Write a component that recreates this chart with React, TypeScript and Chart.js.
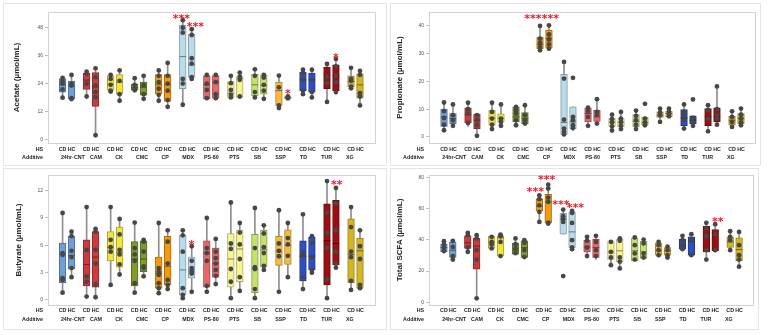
import React, { useEffect, useRef } from 'react';
import { Chart, registerables } from 'chart.js';

Chart.register(...registerables);
Chart.defaults.font.family = '"Liberation Sans", Arial, sans-serif';

const additives = ['24hr-CNT', 'CAM', 'CK', 'CMC', 'CP', 'MDX', 'PS-80', 'PTS', 'SB', 'SSP', 'TD', 'TUR', 'XG'];
const hsLabels = ['CD', 'HC'];
const rowHeaders = ['HS', 'Additive'];
const additiveColors = ['#6f9fd8', '#cf3b3d', '#f3e63a', '#7f9b2c', '#f59a0c', '#b9dcea', '#e8676a', '#f8f58f', '#c5e26b', '#f7bb3e', '#2e4fc4', '#9b0e12', '#d6b522'];

// ---------- Acetate ----------
const acetateLow = [18, 17.4, 18.5, 2, 20.4, 16.7, 20.4, 17.5, 16.7, 14.1, 15, 26, 17.5, 17.8, 18.1, 18.1, 17.5, 17.5, 13.6, 17.6, 19.5, 18.1, 16.2, 19.5, 22, 14.7];
const acetateQ1 = [20.4, 17.5, 21.5, 14.3, 21.2, 19.5, 21.2, 19.1, 19.7, 16.4, 21.8, 26.7, 17.5, 17.8, 18.1, 18.1, 18.8, 19.5, 14.7, 17.7, 21, 20.4, 21.8, 21, 22.7, 17.8];
const acetateMedian = [23.5, 23, 25.5, 22.6, 23.7, 24.6, 22.4, 22.5, 23.5, 23.5, 35.5, 32, 23.5, 24.6, 20, 26.2, 23.5, 23.2, 21, 18, 25.6, 25.6, 27.3, 27.4, 24.9, 23.5];
const acetateQ3 = [26.1, 25, 28.4, 28.7, 27.4, 27.8, 23.7, 24.7, 27.8, 27.8, 48.9, 45, 27.4, 27.4, 24.9, 27, 28, 27.7, 24.6, 18.5, 28.9, 28.5, 31, 32, 27.3, 28.2];
const acetateHigh = [26.4, 27.7, 29.1, 30.5, 27.7, 29.6, 26.3, 27.3, 29.6, 32.8, 51, 47.2, 27.7, 27.7, 27.3, 28.7, 30.1, 27.7, 27.4, 18.7, 29.9, 29.9, 32.4, 34.5, 30.7, 29.4];
const acetatePoints = [[26.4, 25, 24, 21.5, 18], [27.7, 23.9, 23.2, 17.8, 17.4], [29.1, 28.2, 24, 18.5], [30.5, 26.7, 23.2, 20.4, 18.2, 2], [27.7, 26, 23.5, 21, 20.6], [29.6, 25.2, 19.5, 16.7], [26.3, 23.5, 21.8, 21.2], [27.3, 23.3, 19.5, 17.5], [29.6, 27.3, 24.6, 21.8, 19.2, 16.7], [32.8, 27.3, 24, 21, 17, 14.1], [51, 47.8, 45.7, 26, 24, 15], [47.2, 44.7, 34.8, 32.5, 26.7, 26], [27.7, 24, 21.3, 17.8], [27.7, 24.6, 19.5, 17.8], [27.3, 24.2, 21.3, 19.2, 18.1], [28.7, 27, 25.6, 18.5], [30.1, 27.3, 20.4, 18.1], [27.7, 26.6, 23.5, 21, 17.5], [27.4, 22.4, 14.7, 13.6], [18.6, 18, 17.7], [29.9, 28.5, 25.6, 21, 19.5], [29.9, 25.6, 20.4, 18.1], [32.4, 27, 24.2, 16.2], [34.5, 31.3, 27.4, 24.6, 20.4], [30.7, 26, 25.2, 22.7, 22], [29.4, 27.7, 19.9, 18.5, 14.7]];
const acetateTicks = [0, 12, 24, 36, 48];
const acetateStarX = [4.76, 5.34, 9.186, 11.186];
const acetateStarY = [52.9, 49.6, 21.1, 36.5];
const acetateStarText = ['***', '***', '*', '*'];

// ---------- Propionate ----------
const propionateLow = [2.4, 4, 3.8, 0.4, 2.8, 4, 4.2, 4.4, 30.9, 31.5, 0.8, 2.4, 4, 4.6, 2.3, 2.8, 2.8, 3.8, 5.4, 7, 3, 4, 2, 4.4, 3.6, 4.2];
const propionateQ1 = [3.8, 4.8, 5, 3, 4.2, 5.4, 5.4, 4.8, 31.8, 32, 0.9, 3, 5.4, 5.6, 3.8, 3.6, 3.6, 4.4, 7, 7.2, 4, 4.8, 4, 5.4, 4.2, 4.8];
const propionateMedian = [7.2, 6.6, 8, 6, 6.8, 6.6, 7.2, 6.6, 33.3, 35.5, 5.2, 5.4, 8.4, 7.2, 5.4, 5.2, 5.6, 5.2, 7.8, 8.3, 6.8, 6, 7.2, 7.2, 6, 6.6];
const propionateQ3 = [10, 8.4, 10.5, 8.2, 9.6, 8.3, 10.8, 8.8, 36, 38.4, 22.5, 10.8, 10.5, 9.6, 6.8, 6.6, 8, 7.1, 9, 9.3, 9.8, 7.6, 10.2, 10.5, 7.4, 8.4];
const propionateHigh = [12.4, 11.7, 12.3, 8.2, 12.3, 11.7, 11, 11.4, 40, 40.2, 27, 10.8, 10.5, 13.6, 8, 9, 9.5, 7.1, 10.2, 10.2, 11.7, 7.6, 11.4, 18.2, 9.2, 10.2];
const propionatePoints = [[12.4, 9.3, 6.8, 4.4, 2.4], [11.7, 7.8, 6, 4], [12.3, 10, 8.4, 5], [7.8, 6, 4.2, 0.4], [12.3, 9, 6.6, 4.4, 2.8], [11.7, 6.6, 5.4, 4], [10.8, 9.6, 8.4, 6, 4.2], [11.4, 7.8, 6, 4.8], [40, 35.4, 33.9, 32.4, 31.2], [40.2, 36.9, 35.1, 33.3, 31.8], [27, 21, 6.2, 3, 1.8, 0.9], [21.3, 7.2, 6, 4.2, 3.2], [10.5, 9.3, 7.2, 4], [13.6, 9, 8, 4.8], [8, 6.4, 5.2, 3.8, 2.3], [9, 6.6, 5.4, 4, 2.8], [9.5, 7.6, 6, 4.4, 2.8], [11.9, 6.6, 5.2, 4.2], [10.2, 8.8, 7.8, 5.4], [10.2, 9, 8.4, 7.4], [11.7, 9, 7.8, 6, 3], [13.5, 6.8, 5.4, 4], [11.4, 9.6, 6.6, 2], [18.2, 10, 7.8, 6.6, 4.4], [9.2, 7.2, 5.4, 3.6], [10.2, 8, 6.6, 5.2, 4.2]];
const propionateTicks = [0, 10, 20, 30, 40];
const propionateStarX = [3.52, 4.24];
const propionateStarY = [43.8, 43.8];
const propionateStarText = ['***', '***'];

// ---------- Butyrate ----------
const butyrateLow = [0.8, 2.5, 0.37, 0.3, 1.65, 2.8, 0.8, 2.6, 0.75, 1.2, 0.2, 0.9, 0.9, 1.75, 0.2, 1, 0.2, 3.3, 0.9, 2.5, 1.2, 3, 0.2, 3.55, 1.1, 1.2];
const butyrateQ1 = [1.9, 3.4, 1.55, 1.4, 4.3, 3.6, 1.55, 3.1, 1.3, 1.65, 0.55, 2.4, 1.4, 2.5, 1.4, 2, 0.8, 3.6, 3.8, 3.9, 2.1, 3.3, 1.65, 3.85, 1.9, 1.3];
const butyrateMedian = [5, 4.9, 3.9, 4.7, 5.8, 5.2, 4.5, 4.5, 2.9, 3.7, 3.3, 3.3, 5.15, 4, 4.5, 5.6, 3.4, 5.5, 5.3, 6, 4.8, 4.8, 6.5, 6.2, 5, 5.4];
const butyrateQ3 = [6.25, 7, 6.6, 7.5, 7.5, 8, 6.4, 6.5, 4.7, 7, 7.1, 4.7, 6.5, 5.7, 7.3, 7.65, 7.2, 7.65, 7, 7.7, 6.5, 6.9, 10.55, 10.95, 8.9, 6.8];
const butyrateHigh = [9.55, 7.5, 10.2, 7.8, 10.2, 8.9, 8.5, 6.6, 8.45, 7.65, 7.65, 5.9, 9, 6.7, 10.7, 8.45, 10.1, 8.2, 9.85, 8.45, 9.4, 7, 13.05, 12.3, 10.2, 7.65];
const butyratePoints = [[9.55, 5.15, 4.96, 2.4, 2.2, 0.8], [7.5, 7, 5.4, 4.7, 3.5, 2.5], [10.2, 5.5, 2.6, 2, 0.37], [7.8, 7.5, 5.5, 4, 1.7, 0.3], [10.2, 6.6, 5.8, 5.3, 1.65], [8.9, 7.2, 5.5, 5, 3.9, 2.8], [8.5, 5.7, 5, 4.3, 1.85, 0.8], [6.6, 6.4, 5.3, 3.7, 3.5, 2.6], [8.45, 3.5, 3.1, 2.75, 1.85, 1.3, 0.75], [7.65, 6.4, 4, 2.2, 1.65, 1.2], [7.65, 7.1, 5.3, 1.3, 0.55, 0.2], [5.9, 4.3, 3.5, 3.1, 2.9, 0.9], [9, 5.7, 5.15, 4.3, 1.55, 0.9], [6.7, 5.3, 4.6, 4, 3.3, 2.65, 1.75], [10.7, 6.2, 5.6, 3.4, 2, 0.2], [8.45, 7.4, 6.1, 4.5, 2.5, 1], [10.1, 5.7, 3.6, 3.4, 1.2, 0.2], [8.2, 7.3, 5.8, 5.15, 3.75, 3.3], [9.85, 6.2, 5.4, 4.8, 0.9], [8.45, 6.8, 6.1, 4.85, 2.5], [9.4, 5.15, 4.85, 2.5, 1.2], [7, 6.25, 4.7, 3.3, 3], [13.05, 9.6, 7.4, 5.7, 2.3, 0.2], [12.3, 10.6, 7.65, 5.3, 4, 3.55], [10.2, 8, 5.3, 4.7, 2.1, 1.1], [7.65, 5.9, 4.5, 1.65, 1.3]];
const butyrateTicks = [0, 3, 6, 9, 12];
const butyrateStarX = [5.186, 11.22];
const butyrateStarY = [6.4, 13.0];
const butyrateStarText = ['*', '**'];

// ---------- Total SCFA ----------
const totalLow = [31.7, 27.4, 32.3, 2.6, 34.5, 28.7, 30.9, 28.1, 51.5, 50.4, 43.6, 34, 29.6, 27.4, 23.8, 21.7, 26.6, 28.1, 30.2, 28.5, 33.4, 29.8, 27.4, 32.3, 32.8, 22.8];
const totalQ1 = [32.3, 28.7, 34.5, 21.3, 34.5, 29.6, 30.9, 28.7, 58.3, 50.9, 43.6, 35.1, 32.3, 28.7, 27.4, 26, 26.6, 28.1, 30.2, 30.2, 34, 30.2, 32.3, 33, 35.1, 26.6];
const totalMedian = [35.1, 33.4, 38.1, 36, 38.3, 41.3, 33.4, 35, 61.5, 64.3, 53, 45.1, 35.5, 35.1, 32.3, 33, 33, 32.3, 33.4, 33, 36.6, 39.1, 42.3, 44, 38.7, 33.8];
const totalQ3 = [37.2, 38.7, 42.6, 40.9, 42.3, 42.8, 37.7, 39.4, 66.4, 69.1, 57, 57.9, 39.8, 40.4, 39.4, 40.4, 41.1, 39.1, 38.1, 35.1, 40.4, 41.9, 48.7, 46.6, 41.9, 41.3];
const totalHigh = [39.1, 39.4, 44.5, 43, 42.3, 43.4, 40.9, 39.8, 68.5, 75.3, 59.4, 58.5, 41.9, 42.6, 39.4, 40.9, 41.5, 40.2, 38.7, 36, 42.6, 43.6, 50.9, 50, 45.5, 45.1];
const totalPoints = [[39.1, 37.2, 35.1, 32.8], [39.4, 35.5, 29.6, 27.4], [44.5, 43, 35.1, 32.3], [43, 40.9, 33.4, 27.4, 2.6], [41.9, 38.7, 37.2, 34.5], [43.4, 42.3, 38.7, 29.6], [40.9, 37.2, 34.5, 31.5], [39.8, 38.1, 33.4, 29], [68.5, 66, 62.1, 57.9, 51.5], [75.3, 72.8, 67, 64.3, 51, 50.4], [59.4, 55.1, 53.6, 51.5, 16.8], [58.5, 57.2, 50.8, 39.8, 35.1, 34], [41.9, 39.4, 35.1, 29.6], [42.6, 38.7, 33.4, 29.6], [38.7, 32.3, 28.7, 23.8], [40.9, 39.4, 28.7, 26, 21.7], [41.5, 36.6, 31.3, 27.4], [40.2, 37.7, 31.3, 28.7], [38.7, 36.6, 33.4, 30.2], [35.6, 33.4, 30.2, 28.7], [42.6, 39.8, 36.6, 34], [43.6, 39.8, 30.2], [50.9, 47.2, 42.3, 33.4, 27.4], [50, 43.6, 33.4], [45.5, 41.9, 39.8, 33.4], [45.1, 36.6, 30.2, 27.4, 22.8]];
const totalTicks = [0, 20, 40, 60, 80];
const totalStarX = [3.65, 4.12, 4.72, 5.32, 11.29];
const totalStarY = [73, 80.2, 64.6, 62.3, 53.8];
const totalStarText = ['***', '***', '***', '***', '**'];

const HS_OFFSET = 0.186;
const boxPos = (i: number) => Math.floor(i / 2) + (i % 2 === 0 ? -HS_OFFSET : HS_OFFSET);

function shade(hex: string, f: number) {
  const n = parseInt(hex.slice(1), 16);
  const r = Math.round(((n >> 16) & 255) * (1 - f));
  const g = Math.round(((n >> 8) & 255) * (1 - f));
  const b = Math.round((n & 255) * (1 - f));
  return `rgb(${r},${g},${b})`;
}

type PanelProps = {
  title: string;
  low: number[]; q1: number[]; median: number[]; q3: number[]; high: number[];
  points: number[][];
  yTicks: number[]; yMin: number; yMax: number;
  starX: number[]; starY: number[]; starText: string[];
  left: number; top: number; w: number; h: number;
  yWidth: number; pad: { left: number; top: number; right: number; bottom: number };
  xH: number; xPad: number; x2H: number; x2Pad: number; titlePad: number;
  xMin: number; xMax: number;
};

const LABEL_SIZE = 5.3;

function Panel(p: PanelProps) {
  const ref = useRef<HTMLCanvasElement>(null);
  useEffect(() => {
    if (!ref.current) return;
    const n = p.low.length;
    const idx = Array.from({ length: n }, (_, i) => i);
    const fills = idx.map((i) => additiveColors[Math.floor(i / 2)]);
    const borders = fills.map((c) => shade(c, 0.3));
    const medCols = fills.map((c) => shade(c, 0.45));
    const pts: { x: number; y: number }[] = [];
    p.points.forEach((arr, i) => arr.forEach((v) => pts.push({ x: boxPos(i), y: v })));

    const decor = {
      id: 'decor',
      beforeDraw(chart: any) {
        const ctx = chart.ctx;
        ctx.save();
        ctx.fillStyle = '#ffffff';
        ctx.fillRect(0, 0, chart.width, chart.height);
        ctx.strokeStyle = '#e4e4e4';
        ctx.lineWidth = 1;
        ctx.strokeRect(0.5, 0.5, chart.width - 1, chart.height - 1);
        ctx.restore();
      },
      beforeDatasetsDraw(chart: any) {
        const { ctx, chartArea: a } = chart;
        ctx.save();
        ctx.strokeStyle = '#d2d2d2';
        ctx.lineWidth = 1;
        ctx.strokeRect(Math.round(a.left) + 0.5, Math.round(a.top) + 0.5, Math.round(a.right - a.left) - 1, Math.round(a.bottom - a.top));
        ctx.restore();
      },
      afterDatasetsDraw(chart: any) {
        const ctx = chart.ctx;
        const xs = chart.scales.x, ys = chart.scales.y;
        ctx.save();
        ctx.fillStyle = '#ec1c24';
        ctx.font = 'bold 11px "DejaVu Sans", sans-serif';
        ctx.textAlign = 'center';
        ctx.textBaseline = 'alphabetic';
        p.starX.forEach((sx, k) => {
          ctx.fillText(p.starText[k], xs.getPixelForValue(sx), ys.getPixelForValue(p.starY[k]) + 6.3);
        });
        ctx.restore();
      },
      afterDraw(chart: any) {
        const ctx = chart.ctx;
        const a = chart.chartArea;
        const lh = LABEL_SIZE * 1.2;
        ctx.save();
        ctx.fillStyle = '#222';
        ctx.font = `bold ${LABEL_SIZE}px "Liberation Sans", Arial, sans-serif`;
        ctx.textAlign = 'right';
        ctx.textBaseline = 'middle';
        ctx.fillText(rowHeaders[0], a.left - 5, chart.scales.x.top + p.xPad + lh / 2);
        ctx.fillText(rowHeaders[1], a.left - 5, chart.scales.x2.top + p.x2Pad + lh / 2);
        ctx.restore();
      },
    };

    const chart = new Chart(ref.current, {
      type: 'bar',
      data: {
        datasets: [
          {
            type: 'bar',
            label: 'whisker',
            data: idx.map((i) => ({ x: boxPos(i), y: [p.low[i], p.high[i]] })) as any,
            backgroundColor: '#8e8e8e',
            borderWidth: 0,
            barThickness: 1,
            grouped: false,
            order: 4,
          } as any,
          {
            type: 'bar',
            label: 'box',
            data: idx.map((i) => ({ x: boxPos(i), y: [p.q1[i], p.q3[i]] })) as any,
            backgroundColor: fills,
            borderColor: borders,
            borderWidth: 1,
            borderSkipped: false,
            barThickness: 6.7,
            grouped: false,
            order: 3,
          } as any,
          {
            type: 'scatter',
            label: 'median',
            data: idx.map((i) => ({ x: boxPos(i), y: p.median[i] })),
            pointStyle: 'line',
            pointRadius: 3.3,
            pointBorderColor: medCols,
            pointBorderWidth: 1,
            order: 2,
          } as any,
          {
            type: 'scatter',
            label: 'points',
            data: pts,
            pointRadius: 2.4,
            pointBackgroundColor: '#474747',
            pointBorderWidth: 0,
            order: 1,
          } as any,
        ],
      },
      options: {
        animation: false,
        responsive: false,
        maintainAspectRatio: false,
        devicePixelRatio: 1,
        events: [],
        layout: { padding: p.pad },
        plugins: { legend: { display: false }, tooltip: { enabled: false } },
        scales: {
          x: {
            type: 'linear',
            position: 'bottom',
            weight: 0,
            min: p.xMin,
            max: p.xMax,
            afterBuildTicks: (axis: any) => { axis.ticks = idx.map((i) => ({ value: boxPos(i) })); },
            afterFit: (axis: any) => { axis.height = p.xH; },
            grid: { display: false, drawTicks: false },
            border: { display: false },
            ticks: {
              autoSkip: false, maxRotation: 0, minRotation: 0, padding: p.xPad,
              font: { size: LABEL_SIZE, weight: 'bold' }, color: '#222',
              callback: (_v: any, i: number) => hsLabels[i % 2],
            },
          },
          x2: {
            type: 'linear',
            position: 'bottom',
            weight: 1,
            min: p.xMin,
            max: p.xMax,
            afterBuildTicks: (axis: any) => { axis.ticks = additives.map((_, g) => ({ value: g })); },
            afterFit: (axis: any) => { axis.height = p.x2H; },
            grid: { display: false, drawTicks: false },
            border: { display: false },
            ticks: {
              autoSkip: false, maxRotation: 0, minRotation: 0, padding: p.x2Pad,
              font: { size: LABEL_SIZE, weight: 'bold' }, color: '#222',
              callback: (_v: any, i: number) => additives[i],
            },
          },
          y: {
            type: 'linear',
            min: p.yMin,
            max: p.yMax,
            afterBuildTicks: (axis: any) => { axis.ticks = p.yTicks.map((v) => ({ value: v })); },
            afterFit: (axis: any) => { axis.width = p.yWidth; },
            grid: { display: true, drawOnChartArea: false, drawTicks: true, tickLength: 3, color: '#bdbdbd' },
            border: { display: false },
            ticks: { font: { size: 5 }, color: '#555', padding: 2 },
            title: {
              display: true, text: p.title, color: '#222',
              font: { size: 8, weight: 'bold' },
              padding: { top: p.titlePad, bottom: 0 },
            },
          },
        },
      } as any,
      plugins: [decor as any],
    });
    return () => chart.destroy();
  }, []);
  return (
    <canvas
      ref={ref}
      width={p.w}
      height={p.h}
      style={{ position: 'absolute', left: p.left, top: p.top, width: p.w, height: p.h }}
    />
  );
}

export default function App() {
  return (
    <div style={{ position: 'absolute', left: 0, top: 0, width: 772, height: 335, background: '#fff', overflow: 'hidden' }}>
      <Panel
        title="Acetate (µmol/mL)"
        low={acetateLow} q1={acetateQ1} median={acetateMedian} q3={acetateQ3} high={acetateHigh} points={acetatePoints}
        yTicks={acetateTicks} yMin={-1.3} yMax={54.5}
        starX={acetateStarX} starY={acetateStarY} starText={acetateStarText}
        left={3} top={3} w={384} h={163} yWidth={45} pad={{ left: 0, top: 9, right: 11, bottom: 6 }}
        xH={9} xPad={3} x2H={8} x2Pad={2} titlePad={9} xMin={-0.53} xMax={12.59}
      />
      <Panel
        title="Propionate (µmol/mL)"
        low={propionateLow} q1={propionateQ1} median={propionateMedian} q3={propionateQ3} high={propionateHigh} points={propionatePoints}
        yTicks={propionateTicks} yMin={-2.2} yMax={45}
        starX={propionateStarX} starY={propionateStarY} starText={propionateStarText}
        left={390} top={3} w={371} h={163} yWidth={39} pad={{ left: 0, top: 9, right: 4, bottom: 6 }}
        xH={9} xPad={3} x2H={8} x2Pad={2} titlePad={5} xMin={-0.55} xMax={12.55}
      />
      <Panel
        title="Butyrate (µmol/mL)"
        low={butyrateLow} q1={butyrateQ1} median={butyrateMedian} q3={butyrateQ3} high={butyrateHigh} points={butyratePoints}
        yTicks={butyrateTicks} yMin={-0.55} yMax={13.72}
        starX={butyrateStarX} starY={butyrateStarY} starText={butyrateStarText}
        left={3} top={168} w={384} h={162} yWidth={45} pad={{ left: 0, top: 7, right: 11, bottom: 6 }}
        xH={9} xPad={2} x2H={10} x2Pad={2} titlePad={11} xMin={-0.53} xMax={12.59}
      />
      <Panel
        title="Total SCFA (µmol/mL)"
        low={totalLow} q1={totalQ1} median={totalMedian} q3={totalQ3} high={totalHigh} points={totalPoints}
        yTicks={totalTicks} yMin={-1.7} yMax={81.5}
        starX={totalStarX} starY={totalStarY} starText={totalStarText}
        left={390} top={168} w={369} h={162} yWidth={39} pad={{ left: 0, top: 7, right: 2, bottom: 6 }}
        xH={9} xPad={2} x2H={10} x2Pad={2} titlePad={5} xMin={-0.55} xMax={12.55}
      />
    </div>
  );
}
